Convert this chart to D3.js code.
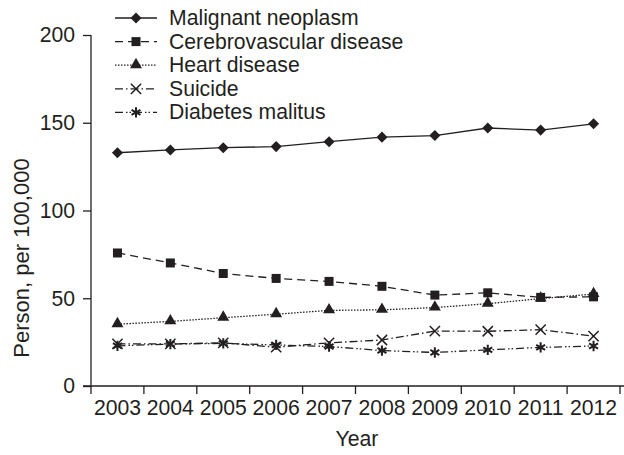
<!DOCTYPE html>
<html>
<head>
<meta charset="utf-8">
<script src="https://cdn.jsdelivr.net/npm/d3@7"></script>
<style>
  body { margin: 0; background: #fff; }
  svg { display: block; font-family: Arial, "Liberation Sans", sans-serif; }
</style>
</head>
<body>
<div id="chart"></div>
<script>
// data
const years = ['2003', '2004', '2005', '2006', '2007', '2008', '2009', '2010', '2011', '2012'];
const malignant = [132.9, 134.5, 135.8, 136.4, 139.2, 141.8, 142.7, 147.0, 145.8, 149.4];
const cerebro = [75.8, 70.1, 64.1, 61.3, 59.6, 56.8, 51.8, 53.1, 50.5, 50.8];
const heart = [35.2, 36.8, 38.9, 40.9, 43.1, 43.4, 44.7, 46.9, 49.8, 52.4];
const suicide = [24.0, 24.0, 24.6, 22.1, 24.6, 26.2, 31.3, 31.2, 32.1, 28.4];
const diabetes = [22.9, 23.9, 24.3, 23.4, 22.5, 20.2, 19.1, 20.6, 22.0, 22.8];
const yTicks = [0, 50, 100, 150, 200];

const series = [
  { name: 'Malignant neoplasm', values: malignant, dash: null, marker: 'diamond' },
  { name: 'Cerebrovascular disease', values: cerebro, dash: '8,5', marker: 'square' },
  { name: 'Heart disease', values: heart, dash: '1.5,1.5', marker: 'triangle' },
  { name: 'Suicide', values: suicide, dash: '8,3,1.5,3', marker: 'cross' },
  { name: 'Diabetes malitus', values: diabetes, dash: '8,3,1.5,2,1.5,3', marker: 'asterisk' },
];

const width = 624;
const height = 455;
const ink = '#231f20';
const fs = 21.2;

const svg = d3.select('#chart')
  .append('svg')
  .attr('width', width)
  .attr('height', height);

const xScale = d3.scaleBand().domain(years).range([91, 620]);
const yScale = d3.scaleLinear().domain([0, 200]).range([386, 35]);

// markers
function drawMarker(g, type, x, y) {
  if (type === 'diamond') {
    g.append('path').attr('d', d3.symbol(d3.symbolDiamond2, 78)())
      .attr('transform', `translate(${x},${y})`).attr('fill', ink);
  } else if (type === 'square') {
    g.append('rect').attr('x', x - 4.5).attr('y', y - 4.5)
      .attr('width', 9).attr('height', 9).attr('fill', ink);
  } else if (type === 'triangle') {
    g.append('path').attr('d', d3.symbol(d3.symbolTriangle, 62)())
      .attr('transform', `translate(${x},${y - 0.5})`).attr('fill', ink);
  } else if (type === 'cross') {
    g.append('path').attr('d', d3.symbol(d3.symbolX, 70)())
      .attr('transform', `translate(${x},${y})`)
      .attr('fill', 'none').attr('stroke', ink).attr('stroke-width', 1.5);
  } else if (type === 'asterisk') {
    g.append('path').attr('d', d3.symbol(d3.symbolAsterisk, 75)())
      .attr('transform', `translate(${x},${y})`)
      .attr('fill', 'none').attr('stroke', ink).attr('stroke-width', 2);
  }
}

const line = d3.line()
  .x((d, i) => xScale(years[i]) + xScale.bandwidth() / 2)
  .y((d) => yScale(d));

// series lines and markers
series.forEach((s) => {
  const g = svg.append('g');
  g.append('path')
    .attr('d', line(s.values))
    .attr('fill', 'none')
    .attr('stroke', ink)
    .attr('stroke-width', 1.3)
    .attr('stroke-dasharray', s.dash);
  s.values.forEach((v, i) => {
    drawMarker(g, s.marker, xScale(years[i]) + xScale.bandwidth() / 2, yScale(v));
  });
});

// Y axis
const yAxis = d3.axisLeft(yScale).tickValues(yTicks).tickSize(8).tickPadding(8);
const yg = svg.append('g').attr('transform', 'translate(91,0)').call(yAxis);
yg.select('.domain').attr('d', 'M0,35V394');
yg.selectAll('line').attr('stroke', ink).attr('stroke-width', 1.3);
yg.select('.domain').attr('stroke', ink).attr('stroke-width', 1.3);
yg.selectAll('text').attr('font-size', fs).attr('fill', ink).attr('font-family', null);

// X axis: ticks on band edges
const xAxisG = svg.append('g').attr('transform', 'translate(0,386)');
xAxisG.append('line').attr('x1', 83).attr('x2', 624).attr('y1', 0).attr('y2', 0)
  .attr('stroke', ink).attr('stroke-width', 1.3);
xAxisG.selectAll('.tick')
  .data(years)
  .join('line')
  .attr('x1', (d) => xScale(d) + xScale.step())
  .attr('x2', (d) => xScale(d) + xScale.step())
  .attr('y1', 0).attr('y2', 8)
  .attr('stroke', ink).attr('stroke-width', 1.3);
xAxisG.selectAll('text')
  .data(years)
  .join('text')
  .attr('x', (d) => xScale(d) + xScale.bandwidth() / 2)
  .attr('y', 29)
  .attr('text-anchor', 'middle')
  .attr('font-size', fs)
  .attr('fill', ink)
  .text((d) => d);

// axis titles
svg.append('text')
  .attr('x', 357).attr('y', 446)
  .attr('text-anchor', 'middle')
  .attr('font-size', fs)
  .attr('fill', ink)
  .text('Year');

svg.append('text')
  .attr('transform', 'translate(29,258) rotate(-90)')
  .attr('text-anchor', 'middle')
  .attr('font-size', 22)
  .attr('fill', ink)
  .text('Person, per 100,000');

// legend
const legend = svg.append('g');
series.forEach((s, i) => {
  const y = 18 + i * 23.6;
  const g = legend.append('g');
  g.append('line')
    .attr('x1', 115).attr('x2', 157).attr('y1', y).attr('y2', y)
    .attr('stroke', ink).attr('stroke-width', 1.3)
    .attr('stroke-dasharray', s.dash);
  drawMarker(g, s.marker, 136, y);
  g.append('text')
    .attr('x', 169).attr('y', y + 7)
    .attr('font-size', fs)
    .attr('fill', ink)
    .text(s.name);
});
</script>
</body>
</html>
